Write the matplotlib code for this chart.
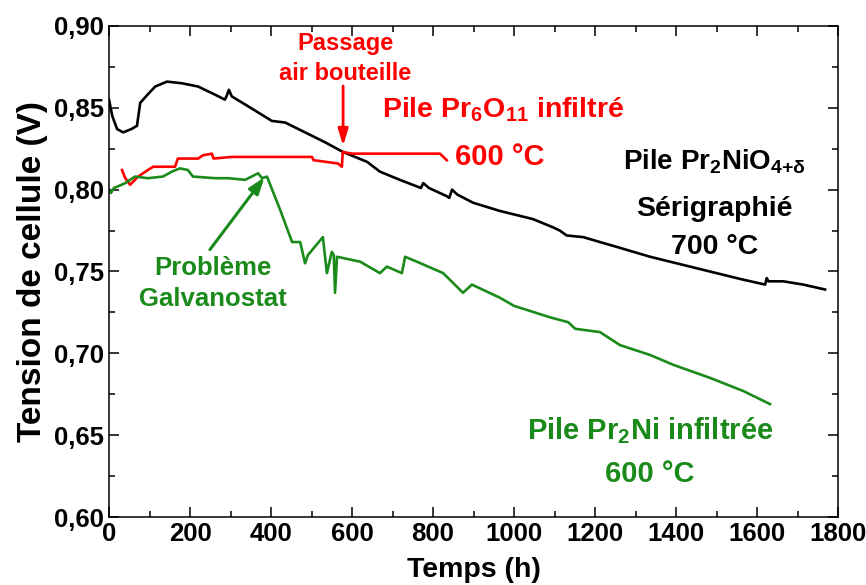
import numpy as np
import matplotlib
matplotlib.use('Agg')
import matplotlib.pyplot as plt
from matplotlib.ticker import MultipleLocator, FuncFormatter

# black: Pr2NiO4+d screen printed, 700 C
black_t = [0, 8, 20, 35, 55, 69, 77, 95, 114, 143, 180, 220, 262, 286, 290, 296, 303, 343, 402, 435,
           484, 533, 578, 637, 669, 718, 760, 770, 776, 790, 834, 840, 847, 860, 899, 965, 1047, 1096,
           1113, 1130, 1171, 1212, 1254, 1336, 1418, 1500, 1566, 1620, 1624, 1628, 1665, 1714, 1768]
black_v = [0.855, 0.845, 0.837, 0.835, 0.837, 0.839, 0.853, 0.858, 0.863, 0.866, 0.865, 0.863, 0.858,
           0.855, 0.857, 0.861, 0.857, 0.851, 0.842, 0.841, 0.835, 0.829, 0.823, 0.817, 0.811, 0.806,
           0.802, 0.801, 0.804, 0.801, 0.796, 0.795, 0.800, 0.797, 0.792, 0.787, 0.782, 0.777, 0.775,
           0.772, 0.771, 0.768, 0.765, 0.759, 0.754, 0.749, 0.745, 0.742, 0.746, 0.744, 0.744, 0.742, 0.739]

# red: Pr6O11 infiltrated, 600 C
red_t = [32, 40, 52, 72, 96, 109, 163, 170, 220, 232, 254, 258, 303, 385, 442, 501, 505, 565, 575,
         577, 600, 817, 834]
red_v = [0.812, 0.807, 0.803, 0.808, 0.812, 0.814, 0.814, 0.819, 0.819, 0.821, 0.822, 0.819, 0.820,
         0.820, 0.820, 0.820, 0.818, 0.816, 0.814, 0.823, 0.822, 0.822, 0.818]

# green: Pr2Ni infiltrated, 600 C
green_t = [0, 5, 12, 22, 40, 64, 96, 133, 155, 175, 195, 207, 262, 294, 336, 368, 378, 390, 422, 452,
           472, 484, 491, 528, 538, 550, 555, 558, 563, 620, 669, 686, 723, 728, 731, 760, 825, 874,
           896, 965, 1000, 1089, 1134, 1151, 1212, 1262, 1336, 1393, 1484, 1566, 1632]
green_v = [0.800, 0.798, 0.801, 0.802, 0.804, 0.808, 0.807, 0.808, 0.811, 0.813, 0.812, 0.808, 0.807,
           0.807, 0.806, 0.810, 0.807, 0.808, 0.788, 0.768, 0.768, 0.755, 0.760, 0.771, 0.749, 0.762,
           0.760, 0.737, 0.759, 0.756, 0.749, 0.753, 0.749, 0.755, 0.759, 0.756, 0.749, 0.737, 0.742,
           0.734, 0.729, 0.722, 0.719, 0.715, 0.713, 0.705, 0.699, 0.693, 0.685, 0.677, 0.669]

RED = '#ff0000'
GREEN = '#1a8a1a'

plt.rcParams['font.family'] = ['Liberation Sans', 'DejaVu Sans']
plt.rcParams['font.weight'] = 'bold'
plt.rcParams['mathtext.fontset'] = 'custom'
plt.rcParams['mathtext.rm'] = 'Liberation Sans:bold'
plt.rcParams['mathtext.bf'] = 'Liberation Sans:bold'
plt.rcParams['mathtext.it'] = 'Liberation Sans:bold'
plt.rcParams['mathtext.default'] = 'regular'

narrow = ['Liberation Sans Narrow', 'Liberation Sans']

fig = plt.figure(figsize=(8.66, 5.85), dpi=100, facecolor='white')
ax = fig.add_axes([0.1259, 0.1162, 0.8418, 0.8394])

ax.plot(black_t, black_v, color='black', lw=1.9)
ax.plot(red_t, red_v, color=RED, lw=1.9)
ax.plot(green_t, green_v, color=GREEN, lw=1.9)

ax.set_xlim(0, 1800)
ax.set_ylim(0.60, 0.90)
ax.xaxis.set_major_locator(MultipleLocator(200))
ax.xaxis.set_minor_locator(MultipleLocator(100))
ax.yaxis.set_major_locator(MultipleLocator(0.05))
ax.yaxis.set_minor_locator(MultipleLocator(0.025))
ax.yaxis.set_major_formatter(FuncFormatter(lambda v, p: f'{v:.2f}'.replace('.', ',')))
ax.tick_params(which='both', direction='in', top=True, right=True, width=1.1)
ax.tick_params(which='major', length=7)
ax.tick_params(which='minor', length=4)
for lab in ax.get_xticklabels() + ax.get_yticklabels():
    lab.set_family(narrow)
    lab.set_fontsize(18.5)
    lab.set_fontweight('bold')
for sp in ax.spines.values():
    sp.set_linewidth(1.1)

ax.set_xlabel('Temps (h)', fontsize=20.5, fontweight='bold', family=narrow, labelpad=8)
ax.set_ylabel('Tension de cellule (V)', fontsize=24, fontweight='bold', labelpad=4)

# annotations
ax.text(583, 0.889, 'Passage', color=RED, fontsize=17, ha='center', va='center', family=narrow)
ax.text(583, 0.871, 'air bouteille', color=RED, fontsize=17, ha='center', va='center', family=narrow)
ax.annotate('', xy=(578, 0.825), xytext=(578, 0.865),
            arrowprops=dict(arrowstyle='-|>,head_length=1.0,head_width=0.3', color=RED, lw=2))
ax.text(675, 0.849, r'Pile Pr$_6$O$_{11}$ infiltré', color=RED, fontsize=20.5, ha='left', va='center')
ax.text(965, 0.820, '600 °C', color=RED, fontsize=21, ha='center', va='center')

ax.text(1496, 0.817, r'Pile Pr$_2$NiO$_{4{+}\delta}$', color='black', fontsize=20, ha='center', va='center')
ax.text(1496, 0.788, 'Sérigraphié', color='black', fontsize=20.5, ha='center', va='center')
ax.text(1496, 0.765, '700 °C', color='black', fontsize=20.5, ha='center', va='center')

ax.text(257, 0.752, 'Problème', color=GREEN, fontsize=18.5, ha='center', va='center')
ax.text(257, 0.733, 'Galvanostat', color=GREEN, fontsize=18.5, ha='center', va='center')
ax.annotate('', xy=(388, 0.809), xytext=(245, 0.762),
            arrowprops=dict(arrowstyle='-|>,head_length=1.0,head_width=0.35', color=GREEN, lw=2.2))

ax.text(1336, 0.653, r'Pile Pr$_2$Ni infiltrée', color=GREEN, fontsize=21, ha='center', va='center')
ax.text(1336, 0.626, '600 °C', color=GREEN, fontsize=21, ha='center', va='center')

fig.savefig('out.png', dpi=100, facecolor='white')
